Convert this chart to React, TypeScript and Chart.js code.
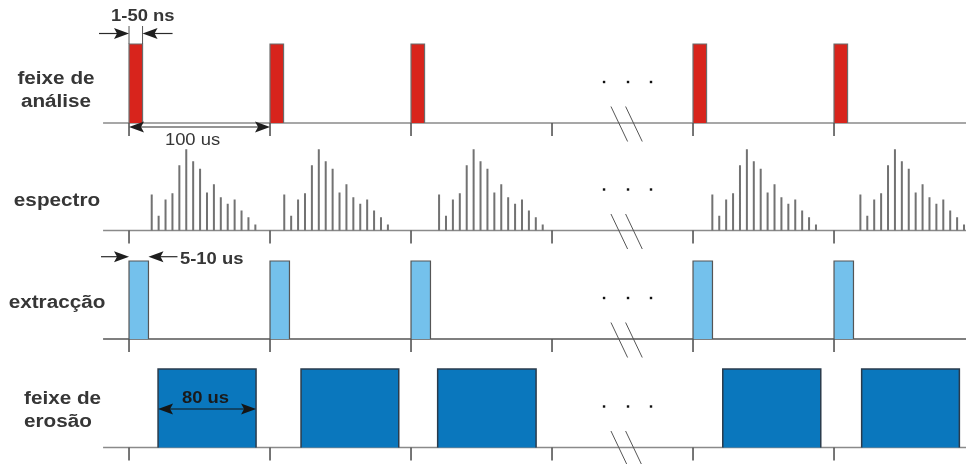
import React, { useEffect, useRef } from 'react';
import { Chart, registerables } from 'chart.js';

Chart.register(...registerables);

// ---------------- data (time in µs, heights in drawing units) ----------------
const tickTimes = [0, 100, 200, 300, 400, 500];
const pulseTimes = [0, 100, 200, 400, 500]; // the 300 µs pulse falls inside the break
const analysisPulseWidth = 9.6; // drawn width (1-50 ns, not to scale)
const analysisPulseHeight = 79;
const spectrumStarts = [16.1, 110.1, 219.9, 413.7, 518.7];
const spectrumLineOffsets = [0, 4.9, 9.8, 14.7, 19.6, 24.5, 29.4, 34.3, 39.2, 44.1, 49.0, 53.9, 58.8, 63.7, 68.6, 73.5];
const spectrumHeights = [36, 14.7, 31, 37.3, 65.3, 81.3, 69.3, 61.7, 38, 46.3, 33.3, 26.7, 31, 20, 13.3, 6];
const extractionWidth = 13.8;
const extractionHeight = 78;
const erosionStarts = [20.6, 122.0, 218.9, 421.1, 519.6];
const erosionEnds = [90.1, 191.3, 288.7, 490.6, 588.9];
const erosionHeight = 78.5;
const breakDots = [336.9, 353.9, 370.2];
const rowLabels = [['feixe de', 'análise'], ['espectro'], ['extracção'], ['feixe de', 'erosão']];
const pulseLabel = '1-50 ns';
const periodLabel = '100 us';
const extractionLabel = '5-10 us';
const erosionLabel = '80 us';

// ---------------- layout ----------------
const W = 966;
const H = 464;
const X_MIN = -91.5;
const X_MAX = 593.6;
const AXIS_START = -18.4;
const ROW_BASE = [341, 233.5, 125, 16.5];
const STRETCH = 1.15;

type P = { x: number; y: number | null };
const pt = (x: number, y: number | null): P => ({ x, y });

function rectPts(t0: number, t1: number, b: number, h: number): P[] {
  return [pt(t0, b), pt(t0, b + h), pt(t1, b + h), pt(t1, b)];
}

function lineDs(data: P[], color: string, width: number, extra: any = {}) {
  return {
    type: 'line',
    data,
    borderColor: color,
    borderWidth: width,
    pointRadius: 0,
    fill: false,
    tension: 0,
    spanGaps: false,
    borderJoinStyle: 'miter',
    ...extra,
  };
}

function buildDatasets() {
  const ds: any[] = [];
  // baselines
  ROW_BASE.forEach((b, i) => {
    ds.push(lineDs([pt(AXIS_START, b), pt(X_MAX, b)], i === 2 ? '#555555' : '#8a8a8a', 1.6, { order: 9 }));
  });
  // tick marks
  ROW_BASE.forEach((b) => {
    const d: P[] = [];
    tickTimes.forEach((t) => {
      d.push(pt(t, b), pt(t, b - 13), pt(t, null));
    });
    ds.push(lineDs(d, '#555555', 1.6, { order: 8 }));
  });
  // break marks
  ROW_BASE.forEach((b) => {
    const d: P[] = [
      pt(341.8, b + 16.5), pt(353.6, b - 18.5), pt(345, null),
      pt(352.2, b + 16.5), pt(364.0, b - 18.5),
    ];
    ds.push(lineDs(d, '#555555', 1, { order: 7 }));
  });
  // dots
  ROW_BASE.forEach((b) => {
    ds.push({
      type: 'line',
      data: breakDots.map((t) => pt(t, b + 41)),
      showLine: false,
      pointStyle: 'rect',
      pointRadius: 1.7,
      pointBackgroundColor: '#111111',
      pointBorderWidth: 0,
      order: 7,
    });
  });
  // analysis pulses (red)
  pulseTimes.forEach((t) => {
    const b = ROW_BASE[0];
    ds.push(lineDs(rectPts(t, t + analysisPulseWidth, b, analysisPulseHeight), '#6b6b6b', 1.2, {
      fill: { value: b },
      backgroundColor: '#d8241c',
      order: 2,
    }));
  });
  // spectrum lines
  spectrumStarts.forEach((s) => {
    const b = ROW_BASE[1];
    const d: P[] = [];
    spectrumLineOffsets.forEach((o, i) => {
      d.push(pt(s + o, b), pt(s + o, b + spectrumHeights[i]), pt(s + o, null));
    });
    ds.push(lineDs(d, '#727272', 2, { order: 2, borderCapStyle: 'butt' }));
  });
  // extraction pulses (light blue)
  pulseTimes.forEach((t) => {
    const b = ROW_BASE[2];
    ds.push(lineDs(rectPts(t, t + extractionWidth, b, extractionHeight), '#555555', 1.2, {
      fill: { value: b },
      backgroundColor: '#74c1ec',
      order: 2,
    }));
  });
  // erosion beam (blue)
  erosionStarts.forEach((s, i) => {
    const b = ROW_BASE[3];
    ds.push(lineDs(rectPts(s, erosionEnds[i], b, erosionHeight), '#2a3b4c', 1.5, {
      fill: { value: b },
      backgroundColor: '#0a77bd',
      order: 2,
    }));
  });
  return ds;
}

function sText(ctx: CanvasRenderingContext2D, text: string, x: number, y: number, font: string, color: string, align: CanvasTextAlign) {
  ctx.save();
  ctx.font = font;
  ctx.fillStyle = color;
  ctx.textAlign = align;
  ctx.textBaseline = 'alphabetic';
  ctx.translate(x, y);
  ctx.scale(STRETCH, 1);
  ctx.fillText(text, 0, 0);
  ctx.restore();
}

function head(ctx: CanvasRenderingContext2D, x: number, y: number, dir: number) {
  ctx.beginPath();
  ctx.moveTo(x, y);
  ctx.lineTo(x - dir * 15, y - 5.5);
  ctx.lineTo(x - dir * 12, y);
  ctx.lineTo(x - dir * 15, y + 5.5);
  ctx.closePath();
  ctx.fill();
}

function hLine(ctx: CanvasRenderingContext2D, x1: number, x2: number, y: number) {
  ctx.beginPath();
  ctx.moveTo(x1, y);
  ctx.lineTo(x2, y);
  ctx.stroke();
}

const annotPlugin = {
  id: 'annot',
  afterDatasetsDraw(chart: any) {
    const ctx: CanvasRenderingContext2D = chart.ctx;
    const xs = chart.scales.x;
    const ys = chart.scales.y;
    const X = (t: number) => xs.getPixelForValue(t);
    const Y = (v: number) => ys.getPixelForValue(v);
    const bold16 = 'bold 16px "Liberation Sans", Arial, sans-serif';
    const reg16 = '16px "Liberation Sans", Arial, sans-serif';
    const bold18 = 'bold 18px "Liberation Sans", Arial, sans-serif';
    const txt = '#363636';

    ctx.save();
    // row labels
    const b1 = Y(ROW_BASE[0]);
    const b2 = Y(ROW_BASE[1]);
    const b3 = Y(ROW_BASE[2]);
    const b4 = Y(ROW_BASE[3]);
    sText(ctx, rowLabels[0][0], 56, b1 - 39, bold18, txt, 'center');
    sText(ctx, rowLabels[0][1], 56, b1 - 16.5, bold18, txt, 'center');
    sText(ctx, rowLabels[1][0], 57, b2 - 24.5, bold18, txt, 'center');
    sText(ctx, rowLabels[2][0], 57, b3 - 31, bold18, txt, 'center');
    sText(ctx, rowLabels[3][0], 24, b4 - 43.5, bold18, txt, 'left');
    sText(ctx, rowLabels[3][1], 24, b4 - 20.5, bold18, txt, 'left');

    ctx.fillStyle = '#1e1e1e';
    ctx.strokeStyle = '#2a2a2a';
    ctx.lineWidth = 1.2;

    // 1-50 ns
    const x0 = X(pulseTimes[0]);
    const x1 = X(pulseTimes[0] + analysisPulseWidth);
    const top1 = Y(ROW_BASE[0] + analysisPulseHeight);
    ctx.save();
    ctx.strokeStyle = '#555555';
    ctx.lineWidth = 1;
    ctx.beginPath();
    ctx.moveTo(x0, top1 - 18); ctx.lineTo(x0, top1);
    ctx.moveTo(x1, top1 - 18); ctx.lineTo(x1, top1);
    ctx.stroke();
    ctx.restore();
    const ya = top1 - 10.5;
    hLine(ctx, x0 - 30, x0 - 4, ya);
    head(ctx, x0, ya, 1);
    hLine(ctx, x1 + 30, x1 + 4, ya);
    head(ctx, x1, ya, -1);
    sText(ctx, pulseLabel, (x0 + x1) / 2 + 7, top1 - 23, bold16, txt, 'center');

    // 100 us
    const xp = X(pulseTimes[1]);
    const yb = b1 + 4;
    hLine(ctx, x0 + 4, xp - 4, yb);
    head(ctx, x0, yb, -1);
    head(ctx, xp, yb, 1);
    sText(ctx, periodLabel, (x0 + xp) / 2 - 7, yb + 18, reg16, txt, 'center');

    // 5-10 us
    const xe = X(pulseTimes[0] + extractionWidth);
    const exTop = Y(ROW_BASE[2] + extractionHeight);
    const yc = exTop - 4.3;
    hLine(ctx, x0 - 28, x0 - 4, yc);
    head(ctx, x0, yc, 1);
    hLine(ctx, xe + 29, xe + 4, yc);
    head(ctx, xe, yc, -1);
    sText(ctx, extractionLabel, xe + 31.5, exTop + 3, bold16, txt, 'left');

    // 80 us
    const es = X(erosionStarts[0]);
    const ee = X(erosionEnds[0]);
    const erTop = Y(ROW_BASE[3] + erosionHeight);
    const yd = erTop + 40;
    ctx.fillStyle = '#151515';
    ctx.strokeStyle = '#151515';
    hLine(ctx, es + 4, ee - 4, yd);
    head(ctx, es, yd, -1);
    head(ctx, ee, yd, 1);
    sText(ctx, erosionLabel, (es + ee) / 2 - 1.5, erTop + 34, bold16, '#1a1a1a', 'center');
    ctx.restore();
  },
};

export default function App() {
  const ref = useRef<HTMLCanvasElement | null>(null);
  useEffect(() => {
    document.body.style.margin = '0';
    const canvas = ref.current;
    if (!canvas) return;
    const chart = new Chart(canvas, {
      type: 'line',
      data: { datasets: buildDatasets() as any },
      options: {
        responsive: false,
        animation: false,
        devicePixelRatio: 1,
        events: [],
        layout: { padding: 0, autoPadding: false },
        plugins: { legend: { display: false }, tooltip: { enabled: false } },
        scales: {
          x: { type: 'linear', min: X_MIN, max: X_MAX, display: false },
          y: { type: 'linear', min: 0, max: H, display: false },
        },
      },
      plugins: [annotPlugin],
    } as any);
    return () => chart.destroy();
  }, []);
  return <canvas ref={ref} width={W} height={H} style={{ display: 'block', background: '#ffffff' }} />;
}
